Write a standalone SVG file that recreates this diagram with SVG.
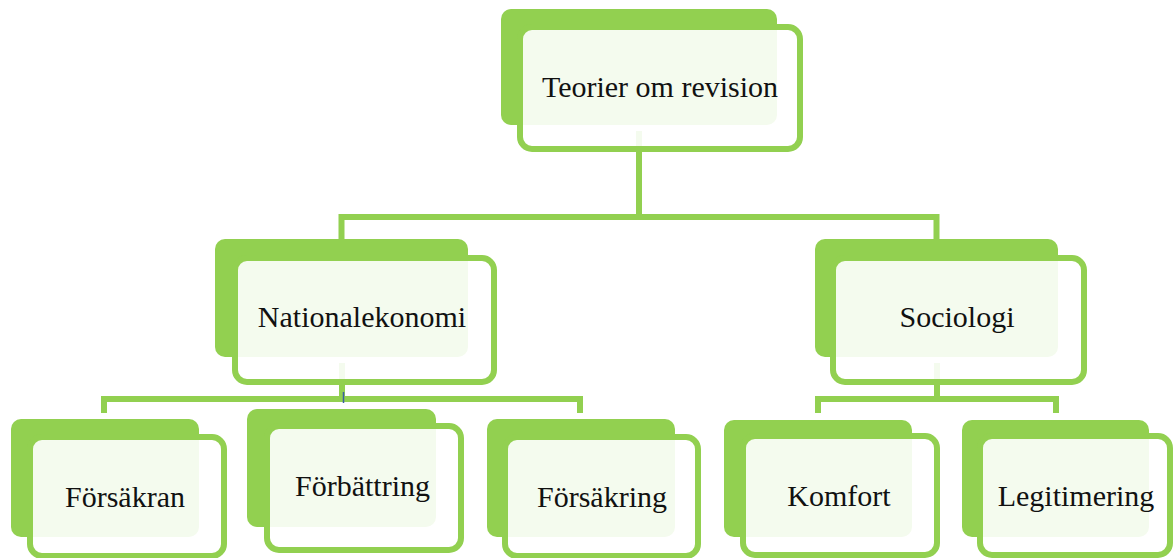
<svg xmlns="http://www.w3.org/2000/svg" width="1173" height="558" viewBox="0 0 1173 558">
<style>
.back{fill:#92D050}
.front{fill:#FFFFFF;fill-opacity:0.9;stroke:#92D050;stroke-width:6}
.conn{fill:none;stroke:#92D050;stroke-width:6;stroke-linejoin:miter}
.lbl{font-family:"Liberation Serif","Times New Roman",serif;font-size:30px;fill:#111111;text-anchor:middle}
</style>
<rect width="1173" height="558" fill="#FFFFFF"/>
<g id="connectors">
<path class="conn" d="M639 131 V217"/>
<path class="conn" d="M341.5 240 V217 H936.5 V240"/>
<path class="conn" d="M342 363 V399"/>
<path class="conn" d="M104 413 V399 H580 V413"/>
<path class="conn" d="M937 363 V399"/>
<path class="conn" d="M818 413 V399 H1056 V413"/>
<line x1="343.5" y1="392" x2="343.5" y2="403" stroke="#3A5FA0" stroke-width="1.5"/>
</g>
<g id="node-teorier">
<rect class="back" x="501" y="9" width="276" height="116" rx="10"/>
<rect class="front" x="520" y="27" width="280" height="122" rx="12"/>
<text class="lbl" x="660" y="97">Teorier om revision</text>
</g>
<g id="node-nationalekonomi">
<rect class="back" x="215" y="239" width="253" height="118" rx="10"/>
<rect class="front" x="235" y="258" width="259" height="124" rx="12"/>
<text class="lbl" x="362" y="327">Nationalekonomi</text>
</g>
<g id="node-sociologi">
<rect class="back" x="815" y="239" width="243" height="118" rx="10"/>
<rect class="front" x="833" y="258" width="251" height="124" rx="12"/>
<text class="lbl" x="957" y="327">Sociologi</text>
</g>
<g id="node-forsakran">
<rect class="back" x="11" y="419" width="188" height="118" rx="10"/>
<rect class="front" x="30" y="437" width="194" height="119" rx="12"/>
<text class="lbl" x="125" y="507">Försäkran</text>
</g>
<g id="node-forbattring">
<rect class="back" x="247" y="409" width="189" height="118" rx="10"/>
<rect class="front" x="267" y="426" width="194" height="124" rx="12"/>
<text class="lbl" x="362.5" y="496">Förbättring</text>
</g>
<g id="node-forsakring">
<rect class="back" x="487" y="419" width="188" height="118" rx="10"/>
<rect class="front" x="505" y="437" width="193" height="119" rx="12"/>
<text class="lbl" x="602" y="507">Försäkring</text>
</g>
<g id="node-komfort">
<rect class="back" x="724" y="420" width="188" height="117" rx="10"/>
<rect class="front" x="743" y="436" width="194" height="119" rx="12"/>
<text class="lbl" x="839" y="506">Komfort</text>
</g>
<g id="node-legitimering">
<rect class="back" x="962" y="420" width="187" height="117" rx="10"/>
<rect class="front" x="980" y="436" width="190" height="119" rx="12"/>
<text class="lbl" x="1076" y="506">Legitimering</text>
</g>
</svg>
